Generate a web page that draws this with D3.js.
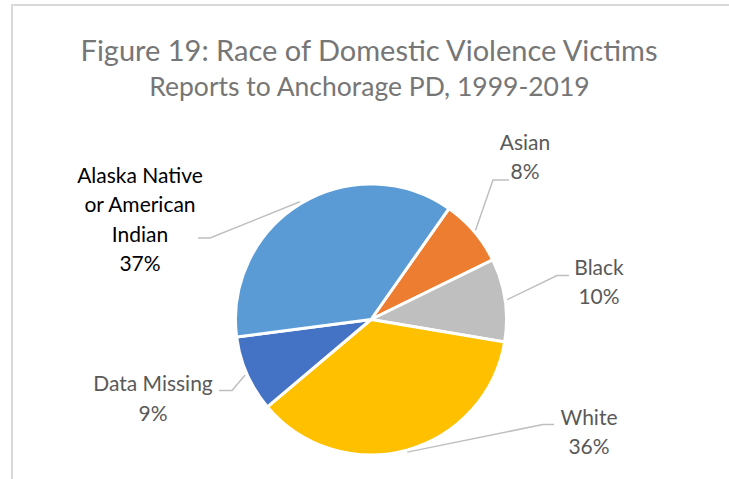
<!DOCTYPE html>
<html>
<head>
<meta charset="utf-8">
<script src="https://cdn.jsdelivr.net/npm/d3@7"></script>
<style>
  html, body { margin: 0; padding: 0; background: #fff; }
  svg { display: block; }
  text { font-family: Lato, "Open Sans", sans-serif; }
</style>
</head>
<body>
<svg id="chart" width="729" height="479"></svg>
<script>
// ---- data (clockwise order as drawn) ----
const categories = ["Asian", "Black", "White", "Data Missing", "Alaska Native or American Indian"];
const shares = [8.0, 9.9, 36.2, 9.1, 36.8];           // percent of victims
const labelLines = [["Asian"], ["Black"], ["White"], ["Data Missing"], ["Alaska Native", "or American", "Indian"]];
const titleText = "Figure 19: Race of Domestic Violence Victims";
const subtitleText = "Reports to Anchorage PD, 1999-2019";

// ---- styles / layout ----
const colors = ["#ED7D31", "#BFBFBF", "#FFC000", "#4472C4", "#5B9BD5"];
const labelColors = ["#595959", "#595959", "#595959", "#595959", "#000000"];
const cx = 371, cy = 319.5, radius = 135.5;
const startDeg = 35.1;
// label anchor (center x, first baseline y) and leader elbow, relative to pie centre
const labelLayout = [
  { x: 154, y: -170, elbow: [[122, -139.5], [138, -139.5]] },
  { x: 228, y: -45,  elbow: [[186, -44], [198, -44]] },
  { x: 218, y: 105,  elbow: [[172, 105], [183, 105]] },
  { x: -218, y: 71.5, elbow: [[-139, 71], [-152, 71]] },
  { x: -231, y: -137, elbow: [[-161, -81.5], [-173, -81.5]] }
];
const lineH = 29.5;

const svg = d3.select("#chart");

// chart area border
svg.append("path")
  .attr("d", "M12,480 L12,5 L730,5")
  .attr("fill", "none").attr("stroke", "#D9D9D9").attr("stroke-width", 2);

// titles
svg.append("text").attr("x", 369).attr("y", 61)
  .attr("text-anchor", "middle").attr("fill", "#767676")
  .style("font-size", "29px").text(titleText);
svg.append("text").attr("x", 369.5).attr("y", 95.5)
  .attr("text-anchor", "middle").attr("fill", "#767676")
  .style("font-size", "26.5px").text(subtitleText);

const pie = d3.pie().sort(null)
  .startAngle(startDeg * Math.PI / 180)
  .endAngle(startDeg * Math.PI / 180 + 2 * Math.PI);
const arcs = pie(shares);
const arc = d3.arc().innerRadius(0).outerRadius(radius);

const g = svg.append("g").attr("transform", `translate(${cx},${cy})`);
g.selectAll("path.slice").data(arcs).join("path")
  .attr("class", "slice")
  .attr("d", arc)
  .attr("fill", (d, i) => colors[i])
  .attr("stroke", "#fff").attr("stroke-width", 3).attr("stroke-linejoin", "round");

// leader lines
const total = d3.sum(shares);
arcs.forEach((d, i) => {
  const mid = (d.startAngle + d.endAngle) / 2;
  const r0 = radius + 2;
  const p0 = [Math.sin(mid) * r0, -Math.cos(mid) * r0];
  const L = labelLayout[i];
  const pts = [p0, L.elbow[0], L.elbow[1]];
  g.append("path")
    .attr("d", d3.line()(pts))
    .attr("fill", "none").attr("stroke", "#BFBFBF").attr("stroke-width", 1.5);
  const lines = labelLines[i].concat([Math.round(shares[i] / total * 100) + "%"]);
  const t = g.append("text").attr("text-anchor", "middle")
    .attr("fill", labelColors[i]).style("font-size", "21px");
  lines.forEach((s, k) => {
    t.append("tspan").attr("x", L.x).attr("y", L.y + k * lineH).text(s);
  });
});
</script>
</body>
</html>
